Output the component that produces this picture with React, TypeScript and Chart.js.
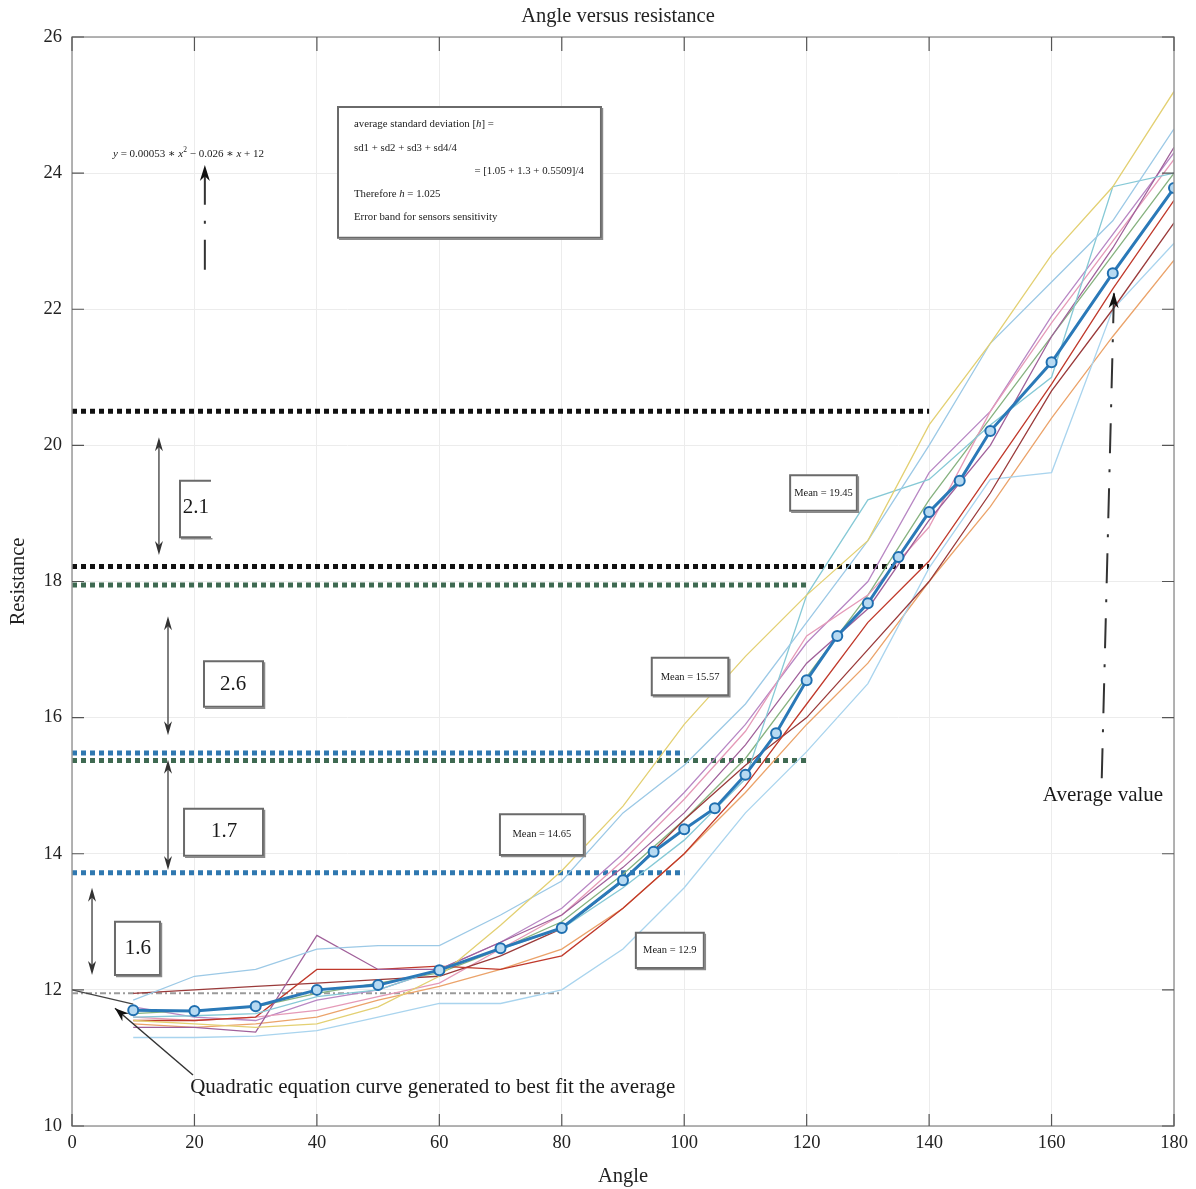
import React, { useEffect, useRef } from 'react';
import { Chart, registerables } from 'chart.js';
Chart.register(...registerables);

// ---------- data ----------
const xTicks = [0, 20, 40, 60, 80, 100, 120, 140, 160, 180];
const yTicks = [10, 12, 14, 16, 18, 20, 22, 24, 26];

const meanAngles = [10, 20, 30, 40, 50, 60, 70, 80, 90, 95, 100, 105, 110, 115, 120, 125, 130, 135, 140, 145, 150, 160, 170, 180];
const meanResistance = [11.7, 11.69, 11.76, 12.0, 12.07, 12.29, 12.61, 12.91, 13.61, 14.03, 14.36, 14.67, 15.16, 15.77, 16.55, 17.2, 17.68, 18.36, 19.02, 19.48, 20.21, 21.22, 22.53, 23.78];

const sensorAngles = [10, 20, 30, 40, 50, 60, 70, 80, 90, 100, 110, 120, 130, 140, 150, 160, 170, 180];
const sensorYellow = [11.55, 11.5, 11.45, 11.5, 11.75, 12.2, 12.95, 13.75, 14.7, 15.9, 16.9, 17.8, 18.6, 20.3, 21.5, 22.8, 23.8, 25.2];
const sensorLightBlue = [11.85, 12.2, 12.3, 12.6, 12.65, 12.65, 13.1, 13.6, 14.6, 15.3, 16.2, 17.4, 18.6, 20.0, 21.5, 22.4, 23.3, 24.65];
const sensorCyan = [11.6, 11.62, 11.65, 11.9, 12.0, 12.3, 12.6, 12.9, 13.5, 14.2, 15.1, 17.8, 19.2, 19.5, 20.3, 21.0, 23.8, 24.0];
const sensorPurple = [11.45, 11.45, 11.38, 12.8, 12.3, 12.3, 12.7, 13.1, 13.8, 14.6, 15.6, 16.8, 17.6, 18.9, 20.0, 21.6, 22.9, 24.38];
const sensorRed = [11.55, 11.55, 11.6, 12.3, 12.3, 12.35, 12.3, 12.5, 13.2, 14.0, 15.0, 16.2, 17.4, 18.3, 19.6, 20.9, 22.3, 23.6];
const sensorBrown = [11.95, 12.0, 12.05, 12.1, 12.15, 12.2, 12.5, 12.9, 13.6, 14.5, 15.3, 16.0, 17.0, 18.0, 19.3, 20.8, 22.0, 23.27];
const sensorPink = [11.6, 11.55, 11.6, 11.7, 11.9, 12.1, 12.6, 13.1, 13.9, 14.8, 15.8, 17.2, 17.8, 18.8, 20.5, 21.8, 23.0, 24.2];
const sensorPaleBlue = [11.3, 11.3, 11.32, 11.4, 11.6, 11.8, 11.8, 12.0, 12.6, 13.5, 14.6, 15.5, 16.5, 18.2, 19.5, 19.6, 22.0, 22.97];
const sensorOrange = [11.5, 11.45, 11.5, 11.6, 11.85, 12.05, 12.3, 12.6, 13.2, 14.0, 14.9, 15.9, 16.8, 18.0, 19.1, 20.4, 21.6, 22.72];
const sensorGreen = [11.65, 11.7, 11.75, 11.95, 12.1, 12.25, 12.6, 13.0, 13.7, 14.5, 15.4, 16.6, 17.8, 19.2, 20.4, 21.6, 22.8, 24.0];
const sensorLilac = [11.75, 11.6, 11.55, 11.85, 12.0, 12.3, 12.7, 13.2, 14.0, 14.9, 15.9, 17.1, 18.0, 19.6, 20.5, 21.9, 23.1, 24.3];

const sensorSeries = [sensorYellow, sensorLightBlue, sensorCyan, sensorPurple, sensorRed, sensorBrown, sensorPink, sensorPaleBlue, sensorOrange, sensorGreen, sensorLilac];
const sensorColors = ['#e3d072', '#9cc9e6', '#86c9d6', '#a0609a', '#c0392b', '#9a3a3a', '#e59ab8', '#a9d4ee', '#eba36a', '#86b27f', '#b887c4'];

const fitAngles = [0, 10];
const fitResistance = [12.0, 11.79];

const bandLevels = [20.5, 18.22, 17.95, 15.48, 15.37, 13.72, 11.95];
const bandEnds = [140, 140, 120, 100, 120, 100, 80];
const bandColors = ['#111111', '#111111', '#3f6a52', '#2f78b0', '#3f6a52', '#2f78b0', '#9a9a9a'];

const gapLabels = ['2.1', '2.6', '1.7', '1.6'];
const meanLabels = ['Mean = 19.45', 'Mean = 15.57', 'Mean = 14.65', 'Mean = 12.9'];

const SERIF = '"Liberation Serif", "DejaVu Serif", serif';
const SMALL = 10.8;
const BIG = 21;

function arrowHead(ctx: CanvasRenderingContext2D, x: number, y: number, ang: number, len = 12, w = 4) {
  ctx.save();
  ctx.translate(x, y);
  ctx.rotate(ang);
  ctx.beginPath();
  ctx.moveTo(0, 0);
  ctx.lineTo(-len, -w);
  ctx.lineTo(-len * 0.7, 0);
  ctx.lineTo(-len, w);
  ctx.closePath();
  ctx.fill();
  ctx.restore();
}

const annotate = {
  id: 'annotate',
  afterDraw(chart: any) {
    const ctx: CanvasRenderingContext2D = chart.ctx;
    const xs = chart.scales.x;
    const ys = chart.scales.y;
    const X = (v: number) => xs.getPixelForValue(v);
    const Y = (v: number) => ys.getPixelForValue(v);
    const a = chart.chartArea;
    ctx.save();

    // frame and inward ticks
    ctx.strokeStyle = '#9a9a9a';
    ctx.lineWidth = 1.5;
    ctx.strokeRect(a.left, a.top, a.right - a.left, a.bottom - a.top);
    ctx.strokeStyle = '#555';
    ctx.lineWidth = 1.2;
    xTicks.forEach((t) => {
      const px = X(t);
      ctx.beginPath();
      ctx.moveTo(px, a.bottom); ctx.lineTo(px, a.bottom - 12);
      ctx.moveTo(px, a.top); ctx.lineTo(px, a.top + 14);
      ctx.stroke();
    });
    yTicks.forEach((t) => {
      const py = Y(t);
      ctx.beginPath();
      ctx.moveTo(a.left, py); ctx.lineTo(a.left + 12, py);
      ctx.moveTo(a.right, py); ctx.lineTo(a.right - 12, py);
      ctx.stroke();
    });

    // title
    ctx.fillStyle = '#222';
    ctx.font = `20.5px ${SERIF}`;
    ctx.textAlign = 'center';
    ctx.textBaseline = 'middle';
    ctx.fillText('Angle versus resistance', (a.left + a.right) / 2 - 5, 17);

    const box = (x0: number, x1: number, y0: number, y1: number, openRight = false) => {
      const l = X(x0), r = X(x1), t = Y(y0), b = Y(y1);
      ctx.fillStyle = '#ffffff';
      ctx.fillRect(l, t, r - l, b - t);
      ctx.strokeStyle = '#6a6a6a';
      ctx.lineWidth = 2;
      ctx.beginPath();
      if (openRight) {
        ctx.moveTo(r, t); ctx.lineTo(l, t); ctx.lineTo(l, b); ctx.lineTo(r, b);
      } else {
        ctx.rect(l, t, r - l, b - t);
      }
      ctx.stroke();
      ctx.strokeStyle = '#8a8a8a';
      ctx.lineWidth = 1.5;
      ctx.beginPath();
      ctx.moveTo(l + 1, b + 1.5); ctx.lineTo(r + 1.5, b + 1.5);
      if (!openRight) ctx.lineTo(r + 1.5, t + 1);
      ctx.stroke();
    };
    const text = (s: string, x: number, y: number, size: number, align: CanvasTextAlign = 'center') => {
      ctx.fillStyle = '#1a1a1a';
      ctx.font = `${size}px ${SERIF}`;
      ctx.textAlign = align;
      ctx.textBaseline = 'middle';
      ctx.fillText(s, X(x), Y(y));
    };
    const dblArrow = (x: number, y0: number, y1: number) => {
      const px = X(x), t = Y(y0), b = Y(y1);
      ctx.strokeStyle = '#555';
      ctx.lineWidth = 1.5;
      ctx.beginPath();
      ctx.moveTo(px, t + 4); ctx.lineTo(px, b - 4);
      ctx.stroke();
      ctx.fillStyle = '#333';
      arrowHead(ctx, px, t, -Math.PI / 2, 14, 4);
      arrowHead(ctx, px, b, Math.PI / 2, 14, 4);
    };
    const dashArrow = (x0: number, y0: number, x1: number, y1: number) => {
      const p0x = X(x0), p0y = Y(y0), p1x = X(x1), p1y = Y(y1);
      ctx.strokeStyle = '#333';
      ctx.lineWidth = 2;
      ctx.setLineDash([30, 16, 3, 16]);
      ctx.beginPath();
      ctx.moveTo(p0x, p0y); ctx.lineTo(p1x, p1y);
      ctx.stroke();
      ctx.setLineDash([]);
      ctx.fillStyle = '#111';
      arrowHead(ctx, p1x, p1y, Math.atan2(p1y - p0y, p1x - p0x), 16, 5);
    };

    // info box
    box(43.45, 86.4, 24.97, 23.05);
    ctx.fillStyle = '#1a1a1a';
    ctx.textBaseline = 'middle';
    ctx.textAlign = 'left';
    const ix = X(46.06);
    ctx.font = `${SMALL}px ${SERIF}`;
    const s1 = 'average standard deviation [';
    ctx.fillText(s1, ix, Y(24.72));
    let w = ctx.measureText(s1).width;
    ctx.font = `italic ${SMALL}px ${SERIF}`;
    ctx.fillText('h', ix + w, Y(24.72));
    w += ctx.measureText('h').width;
    ctx.font = `${SMALL}px ${SERIF}`;
    ctx.fillText('] =', ix + w, Y(24.72));
    ctx.fillText('sd1 + sd2 + sd3 + sd4/4', ix, Y(24.37));
    ctx.textAlign = 'right';
    ctx.fillText('= [1.05 + 1.3 + 0.5509]/4', X(83.6), Y(24.03));
    ctx.textAlign = 'left';
    const s4 = 'Therefore ';
    ctx.fillText(s4, ix, Y(23.69));
    w = ctx.measureText(s4).width;
    ctx.font = `italic ${SMALL}px ${SERIF}`;
    ctx.fillText('h', ix + w, Y(23.69));
    w += ctx.measureText('h').width;
    ctx.font = `${SMALL}px ${SERIF}`;
    ctx.fillText(' = 1.025', ix + w, Y(23.69));
    ctx.fillText('Error band for sensors sensitivity', ix, Y(23.36));

    // equation
    {
      const parts: [string, boolean, boolean][] = [
        ['y', true, false], [' = 0.00053 \u2217 ', false, false], ['x', true, false], ['2', false, true],
        [' \u2212 0.026 \u2217 ', false, false], ['x', true, false], [' + 12', false, false],
      ];
      let px = X(6.7);
      const py = Y(24.28);
      ctx.textAlign = 'left';
      parts.forEach(([s, it, sup]) => {
        ctx.font = `${it ? 'italic ' : ''}${sup ? 7.5 : 11}px ${SERIF}`;
        ctx.fillText(s, px, sup ? py - 4 : py);
        px += ctx.measureText(s).width;
      });
    }
    dashArrow(21.7, 22.58, 21.7, 24.12);

    // gap boxes
    box(17.64, 22.7, 19.48, 18.65, true);
    text(gapLabels[0], 20.25, 19.09, BIG);
    dblArrow(14.2, 20.12, 18.39);
    box(21.56, 31.2, 16.83, 16.16);
    text(gapLabels[1], 26.3, 16.48, BIG);
    dblArrow(15.68, 17.49, 15.74);
    box(18.3, 31.2, 14.66, 13.97);
    text(gapLabels[2], 24.83, 14.32, BIG);
    dblArrow(15.68, 15.38, 13.76);
    box(7.02, 14.37, 13.0, 12.22);
    text(gapLabels[3], 10.78, 12.61, BIG);
    dblArrow(3.27, 13.5, 12.22);

    // mean boxes
    box(117.3, 128.2, 19.56, 19.04);
    text(meanLabels[0], 122.75, 19.3, 10.5);
    box(94.7, 107.2, 16.88, 16.33);
    text(meanLabels[1], 100.95, 16.6, 10.5);
    box(69.9, 83.6, 14.58, 13.98);
    text(meanLabels[2], 76.75, 14.28, 10.5);
    box(92.1, 103.2, 12.84, 12.32);
    text(meanLabels[3], 97.65, 12.58, 10.5);

    // average value
    text('Average value', 168.4, 14.86, BIG);
    dashArrow(168.2, 15.11, 170.2, 22.25);

    // quadratic label
    text('Quadratic equation curve generated to best fit the average', 19.3, 10.56, BIG, 'left');
    ctx.strokeStyle = '#333';
    ctx.lineWidth = 1.5;
    ctx.beginPath();
    ctx.moveTo(X(19.76), Y(10.75));
    ctx.lineTo(X(7.02), Y(11.73));
    ctx.stroke();
    ctx.fillStyle = '#111';
    arrowHead(ctx, X(7.02), Y(11.73), Math.atan2(Y(11.73) - Y(10.75), X(7.02) - X(19.76)), 14, 5);

    ctx.restore();
  },
};

export default function App() {
  const ref = useRef<HTMLCanvasElement | null>(null);
  useEffect(() => {
    document.body.style.margin = '0';
    const canvas = ref.current;
    if (!canvas) return;
    const datasets: any[] = [];
    bandLevels.forEach((lv, i) => {
      datasets.push({
        data: [{ x: 0, y: lv }, { x: bandEnds[i], y: lv }],
        borderColor: bandColors[i],
        borderWidth: i === 6 ? 2 : 5,
        borderDash: i === 6 ? [6, 3, 2, 3] : [5, 4],
        borderCapStyle: 'butt',
        pointRadius: 0,
        order: 5,
      });
    });
    sensorSeries.forEach((s, i) => {
      datasets.push({
        data: sensorAngles.map((a, j) => ({ x: a, y: s[j] })),
        borderColor: sensorColors[i],
        borderWidth: 1.3,
        pointRadius: 0,
        order: 3,
      });
    });
    datasets.push({
      data: fitAngles.map((a, j) => ({ x: a, y: fitResistance[j] })),
      borderColor: '#444',
      borderWidth: 1.3,
      pointRadius: 0,
      order: 2,
    });
    datasets.push({
      data: meanAngles.map((a, j) => ({ x: a, y: meanResistance[j] })),
      borderColor: '#2a79b8',
      borderWidth: 3,
      pointRadius: 5,
      pointStyle: 'circle',
      pointBorderColor: '#1f6fb0',
      pointBackgroundColor: '#b7daf2',
      pointBorderWidth: 2,
      order: 1,
    });

    const chart = new Chart(canvas, {
      type: 'line',
      data: { datasets },
      plugins: [annotate],
      options: {
        animation: false,
        responsive: false,
        maintainAspectRatio: false,
        layout: { padding: { top: 37, right: 22, left: 0, bottom: 0 } },
        plugins: { legend: { display: false }, tooltip: { enabled: false }, title: { display: false } },
        scales: {
          x: {
            type: 'linear',
            min: 0,
            max: 180,
            afterBuildTicks: (s: any) => { s.ticks = xTicks.map((v) => ({ value: v })); },
            afterFit: (s: any) => { s.height = 63; },
            ticks: { font: { family: SERIF, size: 18.5 }, color: '#222', padding: 6 },
            grid: { color: '#ececec', lineWidth: 1, drawTicks: false },
            border: { display: false },
            title: { display: true, text: 'Angle', font: { family: SERIF, size: 20.5 }, color: '#222', padding: { top: 4, bottom: 0 } },
          },
          y: {
            type: 'linear',
            min: 10,
            max: 26,
            afterBuildTicks: (s: any) => { s.ticks = yTicks.map((v) => ({ value: v })); },
            afterFit: (s: any) => { s.width = 72; },
            ticks: { font: { family: SERIF, size: 18.5 }, color: '#222', padding: 10 },
            grid: { color: '#ececec', lineWidth: 1, drawTicks: false },
            border: { display: false },
            title: { display: true, text: 'Resistance', font: { family: SERIF, size: 20.5 }, color: '#222', padding: { top: 6, bottom: 0 } },
          },
        },
      } as any,
    });
    return () => chart.destroy();
  }, []);
  return (
    <div style={{ width: 1196, height: 1189 }}>
      <canvas ref={ref} width={1196} height={1189} style={{ display: 'block' }} />
    </div>
  );
}
